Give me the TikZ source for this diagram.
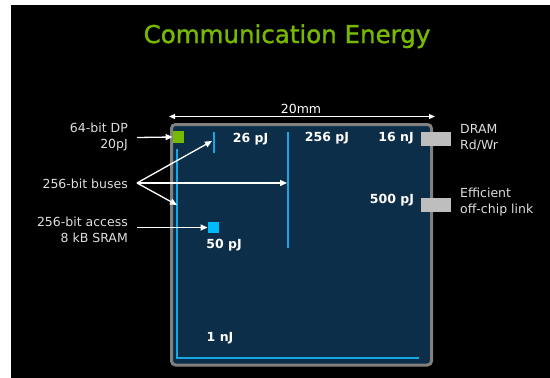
\documentclass[tikz,border=0pt]{standalone}
\usepackage{fontspec}
\setmainfont{DejaVu Sans}
\newfontfamily\headfont[FakeBold=1.3]{DejaVu Sans}
\usetikzlibrary{positioning,arrows.meta}

\definecolor{nvgreen}{RGB}{118,185,0}
\definecolor{chipblue}{RGB}{13,46,72}
\definecolor{chipedge}{RGB}{128,128,128}
\definecolor{busblue}{RGB}{22,168,228}
\definecolor{sramcyan}{RGB}{0,186,250}
\definecolor{padgray}{RGB}{190,190,190}
\definecolor{notegray}{RGB}{222,222,222}

\tikzset{
	note/.style={text=notegray, font=\fontsize{12.5}{16}\selectfont, inner sep=0pt},
	energy/.style={text=white, font=\bfseries\fontsize{12.5}{15}\selectfont, inner sep=0pt},
	bus/.style={draw=busblue, line width=2pt},
	pad/.style={fill=padgray, minimum width=30pt, minimum height=14pt, inner sep=0pt},
	pointer/.style={draw=white, line width=1.3pt, -{Triangle[length=7pt,width=6pt]}},
}

\begin{document}
\begin{tikzpicture}[x=1pt,y=-1pt]
\useasboundingbox (0,0) rectangle (550,378);
\fill[white] (0,0) rectangle (550,378);
\fill[black] (11,5) rectangle (550,378);

% title
\node[text=nvgreen, font=\headfont\fontsize{24.5}{30}\selectfont, anchor=base] (title) at (287,43) {Communication Energy};

% die
\node[draw=chipedge, line width=3pt, fill=chipblue, rounded corners=4pt,
	minimum width=260pt, minimum height=240.5pt] (chip) at (301.5,244.75) {};

% 20mm dimension
\coordinate (dimL) at (169,116.5);
\coordinate (dimR) at (435,116.5);
\draw[white, line width=1.2pt, {Triangle[length=6pt,width=5pt]}-{Triangle[length=6pt,width=5pt]}] (dimL) -- (dimR);
\node[note, text=white, anchor=base] (dimlabel) at (301,113) {20mm};

% wires
\coordinate (shortT) at (214,132);
\coordinate (shortB) at (214,153);
\coordinate (longT) at (288,132);
\coordinate (longB) at (288,248);
\coordinate (edgeT) at (177,149);
\coordinate (edgeC) at (177,357.5);
\coordinate (edgeR) at (419,357.5);
\draw[bus] (shortT) -- (shortB);
\draw[bus] (longT) -- (longB);
\draw[bus] (edgeT) -- (edgeC) -- (edgeR);

% blocks
\node[fill=nvgreen, minimum size=11.5pt, inner sep=0pt] (dp) at (178.5,137) {};
\node[fill=sramcyan, minimum size=11.5pt, inner sep=0pt] (sram) at (213.5,227.5) {};
\node[pad] (dram) at (436,139) {};
\node[pad] (link) at (436,204.5) {};

% energies
\node[energy] (e26) at (250.5,139) {26 pJ};
\node[energy] (e256) at (327,138.5) {256 pJ};
\node[energy] (e16) at (396,138.5) {16 nJ};
\node[energy] (e500) at (392,200) {500 pJ};
\node[energy] (e50) at (224,245) {50 pJ};
\node[energy] (e1) at (220,338) {1 nJ};

% notes
\node[note, align=right, anchor=east] (dpnote) at (128,137.5) {64-bit DP\\20pJ};
\node[note, align=right, anchor=east] (busnote) at (128,183.5) {256-bit buses};
\node[note, align=right, anchor=east] (sramnote) at (128,230) {256-bit access\\8 kB SRAM};
\node[note, align=left, anchor=west] (dramnote) at (460,137.5) {DRAM\\Rd/Wr};
\node[note, align=left, anchor=west] (linknote) at (460,202) {Efficient\\off-chip link};

% pointers
\coordinate (fan) at (137,183);
\draw[pointer] ([xshift=9pt]dpnote.east) -- (dp.west);
\draw[pointer] (fan) -- (212,141);
\draw[pointer] (fan) -- (287,183);
\draw[pointer] (fan) -- (177,205);
\draw[pointer] (137,227.5) -- (sram.west);

\end{tikzpicture}
\end{document}
